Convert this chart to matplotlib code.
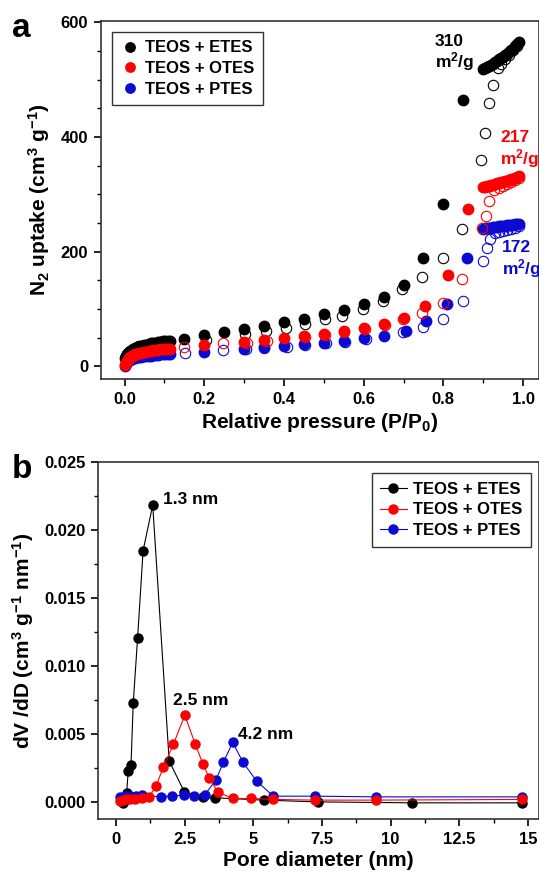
import numpy as np
import matplotlib
matplotlib.use('Agg')
from matplotlib import pyplot as plt

plt.rcParams['font.family'] = 'Liberation Sans'
plt.rcParams['font.weight'] = 'bold'
plt.rcParams['axes.labelweight'] = 'bold'
plt.rcParams['mathtext.fontset'] = 'custom'
plt.rcParams['mathtext.rm'] = 'Liberation Sans:bold'
plt.rcParams['mathtext.bf'] = 'Liberation Sans:bold'
plt.rcParams['mathtext.it'] = 'Liberation Sans:bold'
plt.rcParams['mathtext.default'] = 'bf'

labels = ['TEOS + ETES', 'TEOS + OTES', 'TEOS + PTES']
colors = ['black', 'red', '#0a0ad2']

# ---- panel a: N2 isotherms (filled = adsorption, open = desorption)
p_low = [0.002, 0.004, 0.006, 0.008, 0.010, 0.014, 0.018, 0.022, 0.027, 0.032, 0.037, 0.042,
         0.048, 0.054, 0.060, 0.066, 0.072, 0.078, 0.084, 0.090, 0.096, 0.102, 0.108, 0.114]
p_high = [0.900, 0.905, 0.910, 0.915, 0.920, 0.925, 0.930, 0.935, 0.940, 0.945,
          0.950, 0.955, 0.960, 0.965, 0.970, 0.975, 0.980, 0.985, 0.990]

etes_ads_p = p_low + [0.15, 0.20, 0.25, 0.30, 0.35, 0.40, 0.45, 0.50, 0.55, 0.60, 0.65,
                      0.70, 0.75, 0.80, 0.85] + p_high
etes_ads_v = [14, 18, 21, 23, 25, 27, 29, 31, 32, 34, 35, 36, 37, 38, 39, 40, 41, 41.5, 42, 43,
              43.5, 44, 44.5, 45,
              48, 55, 60, 66, 71, 78, 83, 92, 99, 109, 121, 142, 189, 283, 464,
              518, 520, 522, 524, 526, 528, 530, 532, 535, 537, 540, 542, 545, 548, 551, 554,
              558, 562, 566]
etes_des_p = [0.205, 0.302, 0.355, 0.405, 0.453, 0.503, 0.546, 0.599, 0.649, 0.696, 0.746,
              0.799, 0.847, 0.895, 0.905, 0.915, 0.925, 0.937, 0.945, 0.955, 0.965, 0.975, 0.985]
etes_des_v = [46, 57, 61, 67, 74, 83, 88, 100, 114, 135, 156, 189, 239, 359, 406, 459, 491,
              521, 528, 535, 543, 551, 559]

otes_ads_p = p_low + [0.20, 0.30, 0.35, 0.40, 0.45, 0.50, 0.55, 0.60, 0.65, 0.70, 0.755,
                      0.812, 0.862] + p_high
otes_ads_v = [2, 6, 9, 12, 14, 16, 18, 19, 21, 22, 23, 24, 25, 26, 27, 27.5, 28, 28.5, 29,
              29.5, 30, 30.5, 31, 31,
              38, 43, 46, 50, 53, 57, 62, 67, 74, 84, 105, 159, 274,
              312, 313, 314, 315, 316, 317, 318, 319, 320, 321, 322, 323, 324, 325, 326, 327,
              329, 330, 332]
otes_des_p = [0.149, 0.247, 0.307, 0.357, 0.453, 0.503, 0.551, 0.603, 0.653, 0.699, 0.746,
              0.799, 0.847, 0.897, 0.907, 0.915, 0.927, 0.94, 0.95, 0.96, 0.97, 0.98, 0.99]
otes_des_v = [34, 41, 41, 45, 52, 55, 60, 66, 72, 83, 93, 110, 152, 241, 262, 288, 307,
              311, 314, 318, 321, 325, 328]

ptes_ads_p = p_low + [0.20, 0.30, 0.35, 0.40, 0.45, 0.50, 0.55, 0.60, 0.65, 0.705, 0.756,
                      0.81, 0.86] + p_high
ptes_ads_v = [1, 4, 7, 9, 11, 12, 13, 14, 15, 16, 16.5, 17, 17.5, 18, 18.5, 19, 19.5, 20,
              20.5, 21, 21, 21.5, 22, 22.5,
              26, 31, 34, 36, 39, 41, 45, 50, 53, 62, 80, 109, 189,
              240, 240.5, 241, 241.5, 242, 242.5, 243, 243.5, 244, 244.5, 245, 245.5, 246,
              246.5, 247, 247, 247.5, 248, 248.5]
ptes_des_p = [0.151, 0.247, 0.305, 0.35, 0.407, 0.453, 0.505, 0.553, 0.606, 0.699, 0.749,
              0.799, 0.849, 0.90, 0.91, 0.917, 0.93, 0.94, 0.95, 0.96, 0.97, 0.98, 0.99]
ptes_des_v = [24, 29, 31, 32, 34, 38, 41, 43, 48, 60, 69, 83, 114, 184, 206, 222, 232,
              234, 236, 238, 240, 242, 244]

# ---- panel b: pore size distribution
etes_d = [0.27, 0.30, 0.39, 0.45, 0.55, 0.63, 0.79, 0.99, 1.34, 1.94, 2.49, 3.16, 3.60, 5.39,
          7.34, 10.76, 14.79]
etes_dv = [-0.00007, 0.0001, 0.00066, 0.00228, 0.0027, 0.00724, 0.01206, 0.01846, 0.02182,
           0.0030, 0.00074, 0.00037, 0.0003, 0.00013, 0.0, -0.00007, -0.00007]
otes_d = [0.15, 0.27, 0.39, 0.51, 0.69, 0.94, 1.21, 1.46, 1.72, 2.09, 2.51, 2.88, 3.16, 3.39,
          3.70, 4.25, 4.90, 5.73, 7.25, 9.45, 14.79]
otes_dv = [0.00007, 0.00012, 0.00018, 0.0002, 0.0002, 0.00025, 0.00037, 0.00115, 0.00253,
           0.00422, 0.00637, 0.00429, 0.00282, 0.00179, 0.00074, 0.00025, 0.00025, 0.00018,
           0.00013, 0.00013, 0.00018]
ptes_d = [0.15, 0.33, 0.51, 0.73, 0.94, 1.64, 2.06, 2.49, 2.84, 3.24, 3.64, 3.91, 4.25, 4.63,
          5.12, 5.73, 7.24, 9.45, 14.79]
ptes_dv = [0.00037, 0.00042, 0.00044, 0.00044, 0.00049, 0.00037, 0.00044, 0.00049, 0.00044,
           0.00054, 0.0016, 0.0029, 0.00437, 0.0029, 0.00154, 0.00042, 0.00042, 0.00037,
           0.00037]

fig = plt.figure(figsize=(5.39, 8.77), dpi=100)
ax1 = fig.add_axes([0.1868, 0.5678, 0.8132, 0.4082])
ax2 = fig.add_axes([0.1824, 0.0661, 0.8176, 0.4074])

ads = [(etes_ads_p, etes_ads_v), (otes_ads_p, otes_ads_v), (ptes_ads_p, ptes_ads_v)]
des = [(etes_des_p, etes_des_v), (otes_des_p, otes_des_v), (ptes_des_p, ptes_des_v)]
handles = [None] * 3
for i in [0, 2, 1]:
    ax1.plot(des[i][0], des[i][1], 'o', mfc='none', mec=colors[i], mew=0.8, ms=7.5)
    h, = ax1.plot(ads[i][0], ads[i][1], 'o', color=colors[i], ms=7.5, label=labels[i])
    handles[i] = h
leg = ax1.legend(handles, labels, loc='upper left', bbox_to_anchor=(0.026, 0.969),
                 borderaxespad=0, fancybox=False, edgecolor='black', fontsize=12,
                 handletextpad=0.3, handlelength=1.2, borderpad=0.5, labelspacing=0.35,
                 markerscale=0.9)
leg.get_frame().set_linewidth(1.0)

ax1.text(0.779, 580, '310\nm$^2$/g', color='black', fontsize=12.5, va='top', ha='left',
         linespacing=1.1)
ax1.text(0.943, 412, '217\nm$^2$/g', color='red', fontsize=12.5, va='top', ha='left',
         linespacing=1.1)
ax1.text(0.946, 220, '172\nm$^2$/g', color=colors[2], fontsize=12.5, va='top', ha='left',
         linespacing=1.1)

ax1.set_xlim(-0.06, 1.04)
ax1.set_ylim(-22, 602)
ax1.set_xticks([0, 0.2, 0.4, 0.6, 0.8, 1.0])
ax1.set_xticks(np.arange(0.1, 1.0, 0.2), minor=True)
ax1.set_xticklabels(['0.0', '0.2', '0.4', '0.6', '0.8', '1.0'])
ax1.set_yticks([0, 200, 400, 600])
ax1.set_yticklabels(['0', '200', '400', '600'])
ax1.set_yticks([50, 100, 150, 250, 300, 350, 450, 500, 550], minor=True)
ax1.set_xlabel('Relative pressure (P/P$_0$)', fontsize=15, labelpad=3)
ax1.set_ylabel('N$_2$ uptake (cm$^3$ g$^{-1}$)', fontsize=15, labelpad=6)

series_b = [(etes_d, etes_dv), (otes_d, otes_dv), (ptes_d, ptes_dv)]
handles_b = [None] * 3
for i in [0, 2, 1]:
    h, = ax2.plot(series_b[i][0], series_b[i][1], '-o', color=colors[i], lw=0.8, ms=6.5,
                  label=labels[i])
    handles_b[i] = h
leg2 = ax2.legend(handles_b, labels, loc='upper right', bbox_to_anchor=(0.982, 0.968),
                  borderaxespad=0, fancybox=False, edgecolor='black', fontsize=12,
                  handletextpad=0.4, handlelength=1.6, borderpad=0.5, labelspacing=0.35)
leg2.get_frame().set_linewidth(1.0)

ax2.text(1.71, 0.02219, '1.3 nm', fontsize=12.5, va='center', ha='left')
ax2.text(2.08, 0.00748, '2.5 nm', fontsize=12.5, va='center', ha='left')
ax2.text(4.44, 0.00498, '4.2 nm', fontsize=12.5, va='center', ha='left')

ax2.set_xlim(-0.64, 15.4)
ax2.set_ylim(-0.00126, 0.025)
ax2.set_xticks([0, 2.5, 5, 7.5, 10, 12.5, 15])
ax2.set_xticklabels(['0', '2.5', '5', '7.5', '10', '12.5', '15'])
ax2.set_xticks(np.arange(1.25, 15, 2.5), minor=True)
ax2.set_yticks([0, 0.005, 0.010, 0.015, 0.020, 0.025])
ax2.set_yticklabels(['0.000', '0.005', '0.010', '0.015', '0.020', '0.025'])
ax2.set_yticks(np.arange(0.0025, 0.025, 0.005), minor=True)
ax2.set_xlabel('Pore diameter (nm)', fontsize=15, labelpad=3)
ax2.set_ylabel('dV /dD (cm$^3$ g$^{-1}$ nm$^{-1}$)', fontsize=15, labelpad=6)

for ax in (ax1, ax2):
    for s in ax.spines.values():
        s.set_linewidth(1.2)
        s.set_color('#333333')
    ax.tick_params(which='major', length=5, width=1.2, labelsize=12, direction='out',
                   top=False, right=False, pad=4)
    ax.tick_params(which='minor', length=3, width=1.0, direction='out', top=False, right=False)

fig.text(0.022, 0.985, 'a', fontsize=24, va='top', ha='left')
fig.text(0.022, 0.482, 'b', fontsize=24, va='top', ha='left')

fig.canvas.draw()
for ax in (ax1, ax2):
    for t in ax.get_xticklabels() + ax.get_yticklabels():
        t.set_fontweight('bold')

fig.savefig('out.png', dpi=100)
